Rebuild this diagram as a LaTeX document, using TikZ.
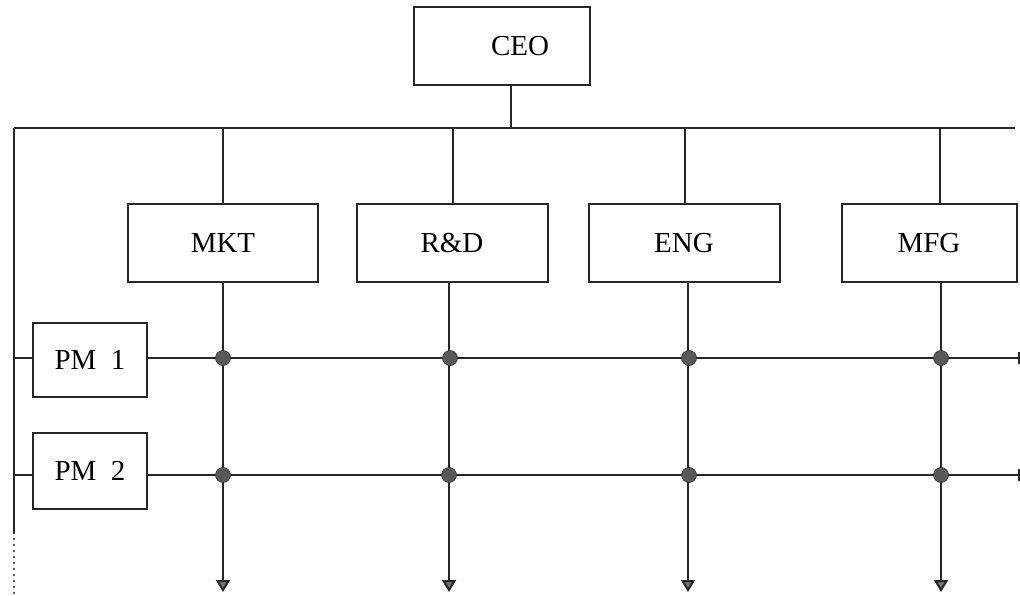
\documentclass[tikz,border=0pt]{standalone}
\usepackage{fontspec}
\setmainfont{Liberation Serif}
\usetikzlibrary{arrows.meta}
\begin{document}
\begin{tikzpicture}[x=1pt,y=-1pt,
  line/.style={line width=2pt,black!85},
  box/.style={draw=black!85,line width=2pt,rectangle,inner sep=0pt,font=\fontsize{29}{31}\selectfont},
  jdot/.style={circle,fill=black!65,draw=black!80,line width=0.6pt,minimum size=15pt,inner sep=0pt},
  arr/.style={line,-{Triangle[width=14pt,length=12pt,fill=black!55]}}]
\useasboundingbox (0,0) rectangle (1020,596);
% boxes
\node[box,minimum width=176pt,minimum height=78pt] (ceo) at (502,46) {};
\node[font=\fontsize{29}{31}\selectfont] (ceot) at (520,46) {CEO};
\node[box,minimum width=190pt,minimum height=78pt] (mkt) at (223,243) {MKT};
\node[box,minimum width=191pt,minimum height=78pt] (rd) at (452,243) {R\&D};
\node[box,minimum width=191pt,minimum height=78pt] (eng) at (684,243) {ENG};
\node[box,minimum width=175pt,minimum height=78pt] (mfg) at (929,243) {MFG};
\node[box,minimum width=114pt,minimum height=74pt] (pm1) at (90,360) {PM\ \ 1};
\node[box,minimum width=114pt,minimum height=76pt] (pm2) at (90,471) {PM\ \ 2};
% coordinates
\coordinate (top) at (511,128);
\coordinate (tl) at (14,128);
\coordinate (tr) at (1015,128);
\coordinate (lend) at (14,533);
\coordinate (lbot) at (14,596);
\coordinate (l1) at (14,358);
\coordinate (l2) at (14,475);
\coordinate (r1) at (1019,358);
\coordinate (r2) at (1019,475);
\coordinate (tm) at (223,128);
\coordinate (trd) at (453,128);
\coordinate (te) at (685,128);
\coordinate (tf) at (940,128);
\coordinate (am) at (223,592);
\coordinate (ard) at (449,592);
\coordinate (ae) at (688,592);
\coordinate (af) at (941,592);
% connectors
\draw[line] (ceo.south -| top) -- (top);
\draw[line] (tl) -- (tr);
\draw[line] (tl) -- (lend);
\draw[black!85,line width=2.4pt,line cap=round,dash pattern=on 0pt off 6pt] (lend) -- (lbot);
\draw[line] (tm) -- (mkt.north -| tm);
\draw[line] (trd) -- (rd.north -| trd);
\draw[line] (te) -- (eng.north -| te);
\draw[line] (tf) -- (mfg.north -| tf);
\draw[line] (l1) -- (pm1.west |- l1);
\draw[line] (l2) -- (pm2.west |- l2);
\draw[line] (pm1.east |- r1) -- (r1);
\draw[line] (pm2.east |- r2) -- (r2);
\draw[line] (r1) ++(0,-6) -- ++(0,12);
\draw[line] (r2) ++(0,-6) -- ++(0,12);
\draw[arr] (mkt.south -| am) -- (am);
\draw[arr] (rd.south -| ard) -- (ard);
\draw[arr] (eng.south -| ae) -- (ae);
\draw[arr] (mfg.south -| af) -- (af);
% junction dots
\node[jdot] (d11) at (223,358) {};
\node[jdot] (d12) at (450,358) {};
\node[jdot] (d13) at (689,358) {};
\node[jdot] (d14) at (941,358) {};
\node[jdot] (d21) at (223,475) {};
\node[jdot] (d22) at (449,475) {};
\node[jdot] (d23) at (689,475) {};
\node[jdot] (d24) at (941,475) {};
\end{tikzpicture}
\end{document}
